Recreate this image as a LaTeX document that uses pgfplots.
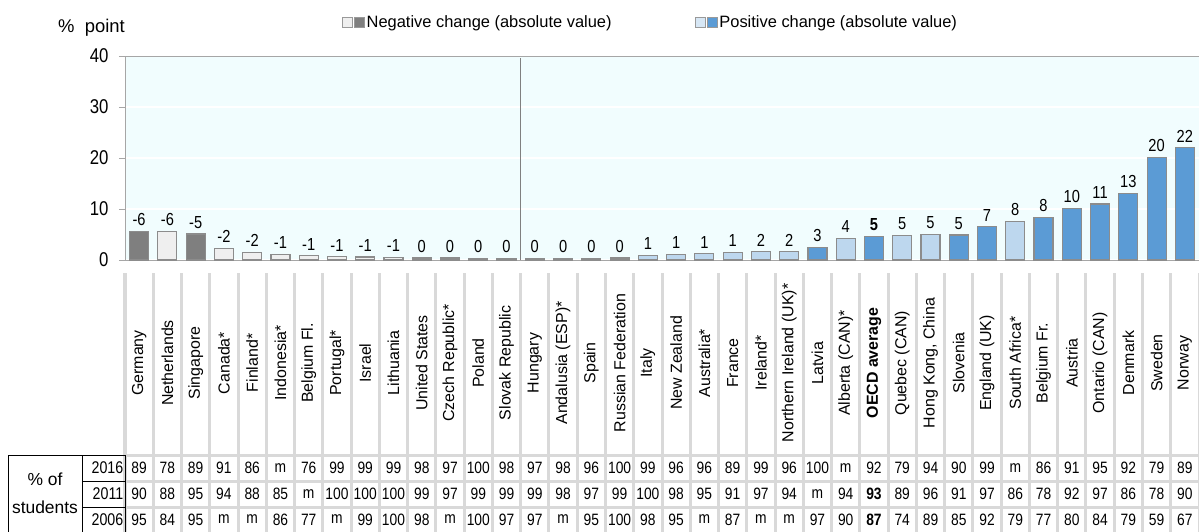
\documentclass[border=0pt]{standalone}
\usepackage{pgfplots}
\pgfplotsset{compat=1.18}
\usepackage{pgfplotstable}
\usepackage{fontspec}
\setmainfont{Liberation Sans}
\newfontfamily\nar[FakeStretch=0.84]{Liberation Sans}
\newcommand\fs[1]{\fontsize{#1}{#1}\selectfont}
\definecolor{dgrey}{HTML}{7F7F7F}
\definecolor{lgrey}{HTML}{EFEFEF}
\definecolor{bord}{HTML}{8C8C8C}
\definecolor{dblue}{HTML}{5B9BD5}
\definecolor{lblue}{HTML}{BDD7EE}
\definecolor{bg}{HTML}{F1FDFE}
\definecolor{sep}{HTML}{D9D9D9}
\def\hundred{100}
\newcommand\cell[1]{\def\tmpa{#1}\ifx\tmpa\hundred{\fs{12}100}\else#1\fi}

\pgfplotstableread{
a b c
89 90 95
78 88 84
89 95 95
91 94 m
86 88 m
m 85 86
76 m 77
99 100 m
99 100 99
99 100 100
98 99 98
97 97 m
100 99 100
98 99 97
97 99 97
98 98 m
96 97 95
100 99 100
99 100 98
96 98 95
96 95 m
89 91 87
99 97 m
96 94 m
100 m 97
m 94 90
92 93 87
79 89 74
94 96 89
90 91 85
99 97 92
m 86 79
86 78 77
91 92 80
95 97 84
92 86 79
79 78 59
89 90 67
}\pct

\begin{document}
\begin{tikzpicture}
\useasboundingbox (-125bp,-272bp) rectangle (1074bp,260bp);
% separators and table grid
\foreach \k in {0,...,38}{
  \pgfmathsetmacro\xx{\k*28.2632}
  \draw[sep, line width=3bp] (\xx bp,-13bp) -- (\xx bp,-275bp);
}
\foreach \yy in {-195,-221,-247}{
  \draw[sep, line width=3bp] (0bp,\yy bp) -- (1076bp,\yy bp);
}
\begin{axis}[
  at={(0bp,0bp)}, anchor=south west,
  scale only axis, width=1074bp, height=204bp,
  xmin=-0.5, xmax=37.5, ymin=0, ymax=40,
  clip=false,
  axis background/.style={fill=bg},
  axis line style={draw=gray!70, line width=0.8pt},
  ytick={0,10,20,30,40},
  ymajorgrids, grid style={white, line width=1.2pt},
  tick align=outside, major tick length=6bp,
  ytick style={draw=gray!70, line width=0.8pt},
  /pgf/number format/assume math mode=true,
  yticklabel style={font=\nar\fs{20}, xshift=-7bp},
  xtick={0,...,37},
  xtick style={draw=none},
  xticklabels={Germany, Netherlands, Singapore, Canada*, Finland*, Indonesia*, Belgium Fl., Portugal*, Israel, Lithuania, United States, Czech Republic*, Poland, Slovak Republic, Hungary, Andalusia (ESP)*, Spain, Russian Federation, Italy, New Zealand, Australia*, France, Ireland*, Northern Ireland (UK)*, Latvia, Alberta (CAN)*, \textbf{OECD average}, Quebec (CAN), {Hong Kong, China}, Slovenia, England (UK), South Africa*, Belgium Fr., Austria, Ontario (CAN), Denmark, Sweden, Norway},
  xticklabel style={yshift=-97bp, rotate=90, anchor=center, font=\fs{16}},
  every node near coord/.append style={font=\nar\fs{17.5}, anchor=south, inner sep=2bp, yshift=3bp},
  legend columns=2,
  legend style={at={(0.199,1.167)}, anchor=west, draw=none, fill=none, font=\fs{16.5},
    /tikz/every even column/.append style={column sep=81bp}},
]
\addplot[ybar, bar width=19bp, fill=dgrey, draw=bord, line width=1.2pt, forget plot,
  nodes near coords, point meta=explicit symbolic]
  coordinates {(0,5.6) [-6] (2,5.1) [-5]};
\addplot[ybar, bar width=19bp, fill=lgrey, draw=bord, line width=1.2pt, forget plot,
  nodes near coords, point meta=explicit symbolic]
  coordinates {(1,5.6) [-6] (3,2.3) [-2] (4,1.5) [-2] (5,1.1) [-1] (6,0.85) [-1] (7,0.65) [-1]
  (8,0.6) [-1] (9,0.5) [-1] (10,0.4) [0] (11,0.4) [0] (12,0.25) [0] (13,0.25) [0]};
\addplot[ybar, bar width=19bp, fill=lblue, draw=bord, line width=1.2pt, forget plot,
  nodes near coords, point meta=explicit symbolic]
  coordinates {(14,0.25) [0] (15,0.25) [0] (16,0.35) [0] (17,0.4) [0] (18,0.9) [1] (19,1.1) [1]
  (20,1.2) [1] (21,1.5) [1] (22,1.6) [2] (23,1.6) [2] (25,4.2) [4] (27,4.8) [5] (28,5.0) [5] (31,7.6) [8]};
\addplot[ybar, bar width=19bp, fill=dblue, draw=bord, line width=1.2pt, forget plot,
  nodes near coords, point meta=explicit symbolic]
  coordinates {(24,2.5) [3] (29,4.9) [5] (30,6.5) [7] (32,8.3) [8] (33,10.1) [10] (34,11.0) [11]
  (35,13.0) [13] (36,20.1) [20] (37,22.0) [22]};
\addplot[ybar, bar width=19bp, fill=dblue, draw=bord, line width=1.2pt, forget plot,
  nodes near coords, point meta=explicit symbolic,
  every node near coord/.append style={font=\nar\bfseries\fs{17.5}}]
  coordinates {(26,4.6) [5]};
\draw[gray, line width=1.6pt] (axis cs:13.5,0) -- (axis cs:13.5,39.6);
\addlegendimage{legend image code/.code={
  \draw[fill=lgrey, draw=gray!80, line width=0.8pt] (0bp,-5bp) rectangle (10bp,5bp);
  \draw[fill=dgrey, draw=gray!80, line width=0.8pt] (12bp,-5bp) rectangle (22bp,5bp);}}
\addlegendentry{Negative change (absolute value)}
\addlegendimage{legend image code/.code={
  \draw[fill=lblue!60, draw=gray!80, line width=0.8pt] (0bp,-5bp) rectangle (10bp,5bp);
  \draw[fill=dblue, draw=gray!80, line width=0.8pt] (12bp,-5bp) rectangle (22bp,5bp);}}
\addlegendentry{Positive change (absolute value)}
\end{axis}
\node[anchor=east, font=\fs{18.5}, inner sep=0pt] at (0bp,232bp) {\%\ \ point};
% table
\foreach \i in {0,...,37}{
  \pgfmathsetmacro\xx{(\i+0.5)*28.2632}
  \pgfplotstablegetelem{\i}{a}\of\pct \let\va\pgfplotsretval
  \pgfplotstablegetelem{\i}{b}\of\pct \let\vb\pgfplotsretval
  \pgfplotstablegetelem{\i}{c}\of\pct \let\vc\pgfplotsretval
  \node[font=\nar\fs{16.5}] at (\xx bp,-208bp) {\cell{\va}};
  \node[font=\nar\fs{16.5}] at (\xx bp,-234bp) {\ifnum\i=26 \bfseries\fi\cell{\vb}};
  \node[font=\nar\fs{16.5}] at (\xx bp,-259.5bp) {\ifnum\i=26 \bfseries\fi\cell{\vc}};
}
\draw[black, line width=1pt] (-117bp,-195bp) rectangle (0bp,-273bp);
\draw[black, line width=1pt] (-43bp,-195bp) -- (-43bp,-273bp);
\draw[black, line width=1pt] (-43bp,-221bp) -- (0bp,-221bp);
\draw[black, line width=1pt] (-43bp,-247bp) -- (0bp,-247bp);
\node[font=\fs{17.5}] at (-80bp,-219bp) {\% of};
\node[font=\fs{17.5}] at (-80bp,-247bp) {students};
\node[font=\nar\fs{17}, anchor=east, inner sep=1.5bp] at (0bp,-208bp) {2016};
\node[font=\nar\fs{17}, anchor=east, inner sep=1.5bp] at (0bp,-234bp) {2011};
\node[font=\nar\fs{17}, anchor=east, inner sep=1.5bp] at (0bp,-259.5bp) {2006};
\end{tikzpicture}
\end{document}
